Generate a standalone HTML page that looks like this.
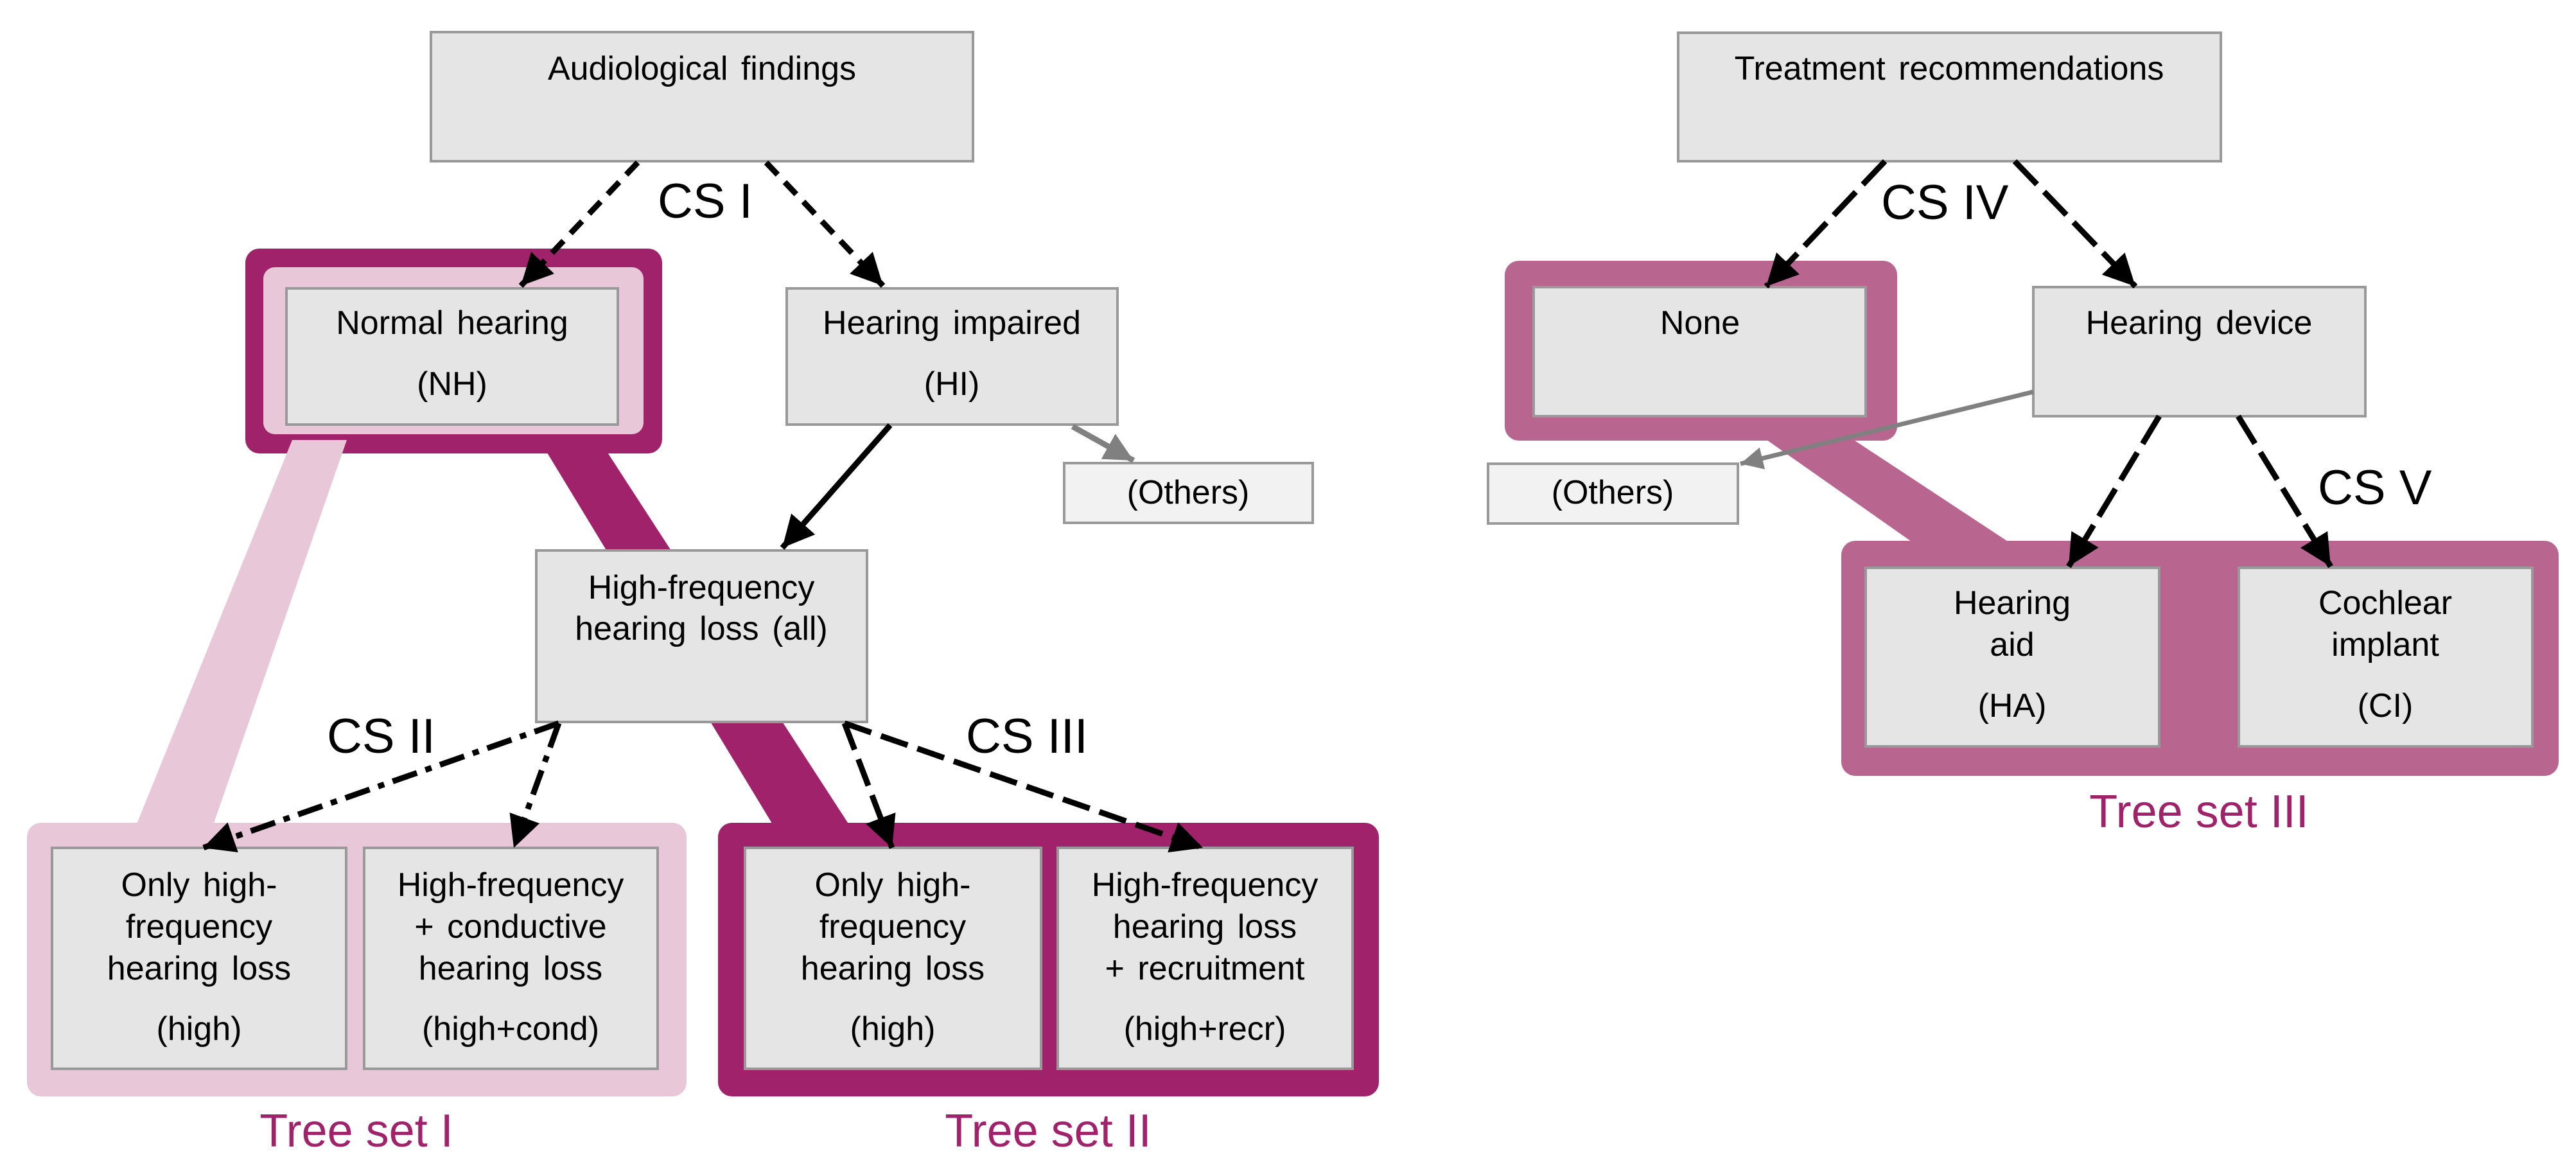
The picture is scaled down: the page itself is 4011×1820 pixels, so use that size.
<!DOCTYPE html>
<html><head><meta charset="utf-8"><style>
html,body{margin:0;padding:0;background:#fff;}
svg{display:block;}
text{font-family:"Liberation Sans",sans-serif;}
</style></head><body>
<svg width="4011" height="1820" viewBox="0 0 4011 1820" xmlns="http://www.w3.org/2000/svg">
<defs>
<marker id="a" viewBox="0 0 10 10" refX="10" refY="5" markerWidth="5.5" markerHeight="5.5" orient="auto"><path d="M0,0 L10,5 L0,10 z" fill="#000"/></marker>
<marker id="g" viewBox="0 0 10 10" refX="10" refY="5" markerWidth="5" markerHeight="5" orient="auto"><path d="M0,0 L10,5 L0,10 z" fill="#808080"/></marker>
</defs>

<polygon points="849,700 943,700 1326,1290 1207,1290" fill="#A0226A"/>
<rect x="382" y="387" width="649" height="319" rx="22" fill="#A0226A"/>
<rect x="410" y="416" width="592" height="260" rx="18" fill="#E8C8D8"/>
<polygon points="455,685 540,685 330,1290 210,1290" fill="#E8C8D8"/>
<rect x="42" y="1281" width="1027" height="426" rx="22" fill="#E8C8D8"/>
<rect x="1118" y="1281" width="1029" height="426" rx="22" fill="#A0226A"/>

<g fill="#E5E5E5" stroke="#999" stroke-width="4">
<rect x="671" y="50" width="844" height="201"/>
<rect x="446" y="449" width="516" height="212"/>
<rect x="1225" y="449" width="515" height="212"/>
<rect x="835" y="857" width="515" height="267"/>
<rect x="81" y="1320" width="458" height="344"/>
<rect x="567" y="1320" width="457" height="344"/>
<rect x="1160" y="1320" width="461" height="344"/>
<rect x="1647" y="1320" width="459" height="344"/>
<rect x="1657" y="721" width="387" height="93" fill="#F2F2F2"/>
</g>

<g font-size="52" text-anchor="middle" fill="#000" word-spacing="6">
<text x="1093" y="124">Audiological findings</text>
<text x="704" y="520">Normal hearing</text>
<text x="704" y="615">(NH)</text>
<text x="1482" y="520">Hearing impaired</text>
<text x="1482" y="615">(HI)</text>
<text x="1850" y="784">(Others)</text>
<text x="1092" y="932">High-frequency</text>
<text x="1092" y="996">hearing loss (all)</text>
<text x="310" y="1395">Only high-</text>
<text x="310" y="1460">frequency</text>
<text x="310" y="1525">hearing loss</text>
<text x="310" y="1619">(high)</text>
<text x="795" y="1395">High-frequency</text>
<text x="795" y="1460">+ conductive</text>
<text x="795" y="1525">hearing loss</text>
<text x="795" y="1619">(high+cond)</text>
<text x="1390" y="1395">Only high-</text>
<text x="1390" y="1460">frequency</text>
<text x="1390" y="1525">hearing loss</text>
<text x="1390" y="1619">(high)</text>
<text x="1876" y="1395">High-frequency</text>
<text x="1876" y="1460">hearing loss</text>
<text x="1876" y="1525">+ recruitment</text>
<text x="1876" y="1619">(high+recr)</text>
</g>

<g font-size="76" fill="#000">
<text x="1024" y="339">CS I</text>
<text x="509" y="1172">CS II</text>
<text x="1504" y="1172">CS III</text>
<text x="2929" y="341">CS IV</text>
<text x="3609" y="785">CS V</text>
</g>
<g font-size="72" fill="#A0226A" text-anchor="middle">
<text x="555" y="1785">Tree set I</text>
<text x="1632" y="1785">Tree set II</text>
<text x="3424" y="1288">Tree set III</text>
</g>

<g stroke="#000" stroke-width="9" fill="none">
<line x1="993" y1="253" x2="811" y2="445" stroke-dasharray="26,16" marker-end="url(#a)"/>
<line x1="1193" y1="253" x2="1375" y2="445" stroke-dasharray="26,16" marker-end="url(#a)"/>
<line x1="1386" y1="662" x2="1218" y2="853" marker-end="url(#a)"/>
<line x1="870" y1="1126" x2="316" y2="1320" stroke-dasharray="40,14,10,14" marker-end="url(#a)"/>
<line x1="870" y1="1126" x2="800" y2="1320" stroke-dasharray="40,14,10,14" marker-end="url(#a)"/>
<line x1="1315" y1="1126" x2="1389" y2="1320" stroke-dasharray="44,16" marker-end="url(#a)"/>
<line x1="1315" y1="1126" x2="1873" y2="1320" stroke-dasharray="44,16" marker-end="url(#a)"/>
</g>
<line x1="1670" y1="664" x2="1765" y2="717" stroke="#808080" stroke-width="9" marker-end="url(#g)"/>

<polygon points="2744,680 2879,680 3137,850 2986,850" fill="#B86690"/>
<rect x="2343" y="406" width="611" height="280" rx="22" fill="#B86690"/>
<rect x="2867" y="842" width="1117" height="366" rx="22" fill="#B86690"/>
<g fill="#E5E5E5" stroke="#999" stroke-width="4">
<rect x="2613" y="51" width="845" height="200"/>
<rect x="2388" y="447" width="517" height="201"/>
<rect x="3166" y="447" width="517" height="201"/>
<rect x="2905" y="884" width="457" height="278"/>
<rect x="3486" y="884" width="457" height="278"/>
<rect x="2317" y="722" width="389" height="93" fill="#F2F2F2"/>
</g>
<g font-size="52" text-anchor="middle" fill="#000" word-spacing="6">
<text x="3035" y="124">Treatment recommendations</text>
<text x="2647" y="520">None</text>
<text x="3424" y="520">Hearing device</text>
<text x="2511" y="784">(Others)</text>
<text x="3133" y="956">Hearing</text>
<text x="3133" y="1021">aid</text>
<text x="3133" y="1116">(HA)</text>
<text x="3714" y="956">Cochlear</text>
<text x="3714" y="1021">implant</text>
<text x="3714" y="1116">(CI)</text>
</g>
<g stroke="#000" stroke-width="9" fill="none">
<line x1="2935" y1="251" x2="2750" y2="446" stroke-dasharray="50,16" marker-end="url(#a)"/>
<line x1="3137" y1="251" x2="3325" y2="446" stroke-dasharray="50,16" marker-end="url(#a)"/>
<line x1="3362" y1="648" x2="3221" y2="882" stroke-dasharray="50,16" marker-end="url(#a)"/>
<line x1="3485" y1="648" x2="3629" y2="882" stroke-dasharray="50,16" marker-end="url(#a)"/>
</g>
<line x1="3166" y1="610" x2="2710" y2="722" stroke="#808080" stroke-width="7" marker-end="url(#g)"/>
</svg>
</body></html>
